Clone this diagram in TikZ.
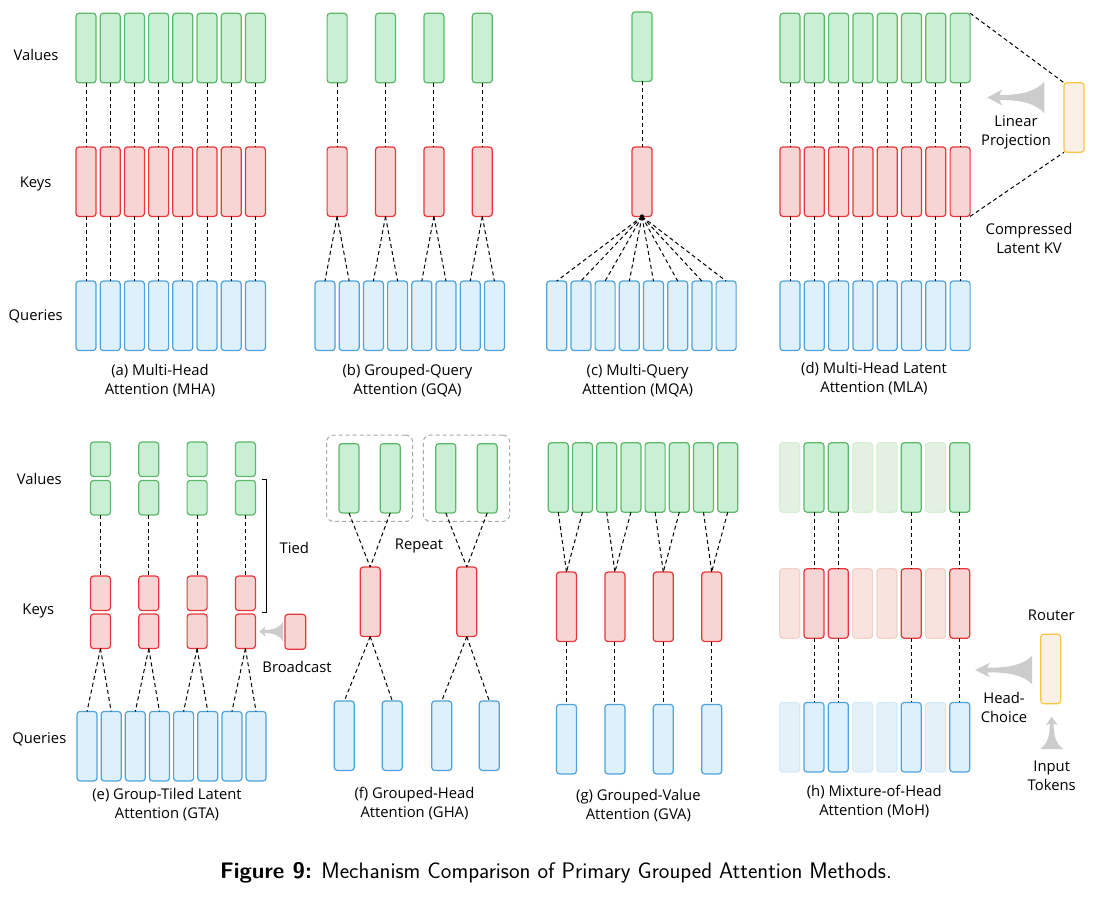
\documentclass[tikz,border=0pt]{standalone}
\usepackage{fontspec}
\setmainfont{Open Sans}
\usetikzlibrary{fit}
\definecolor{vstroke}{HTML}{5CB86A}
\definecolor{vfill}{HTML}{C9EFD4}
\definecolor{kstroke}{HTML}{E8363A}
\definecolor{kfill}{HTML}{F7D5D5}
\definecolor{qstroke}{HTML}{4FA3DA}
\definecolor{qfill}{HTML}{DEF0FB}
\definecolor{lstroke}{HTML}{F7C548}
\definecolor{lfill}{HTML}{FBF0E6}
\definecolor{fvstroke}{HTML}{D8EDD6}
\definecolor{fvfill}{HTML}{E4F1E2}
\definecolor{fkstroke}{HTML}{F0D2CA}
\definecolor{fkfill}{HTML}{F8E3DE}
\definecolor{fqstroke}{HTML}{D6EAF6}
\definecolor{fqfill}{HTML}{E5F1F8}
\definecolor{arrowgray}{HTML}{CCCCCC}
\definecolor{groupgray}{HTML}{AAAAAA}
\tikzset{
  box/.style={rounded corners=3pt, line width=1.2pt, minimum width=20pt, minimum height=69.5pt, inner sep=0pt, outer sep=0pt},
  small/.style={minimum height=34.5pt},
  vbox/.style={box, draw=vstroke, fill=vfill},
  kbox/.style={box, draw=kstroke, fill=kfill},
  qbox/.style={box, draw=qstroke, fill=qfill},
  lbox/.style={box, draw=lstroke, fill=lfill},
  fvbox/.style={box, draw=fvstroke, fill=fvfill},
  fkbox/.style={box, draw=fkstroke, fill=fkfill},
  fqbox/.style={box, draw=fqstroke, fill=fqfill},
  link/.style={line width=1pt, dash pattern=on 4pt off 3pt},
  lbl/.style={font=\fontsize{14.8}{19}\selectfont, align=center, inner sep=0pt},
  groupbox/.style={draw=groupgray, line width=1pt, dash pattern=on 4pt off 3pt, rounded corners=7pt, inner xsep=12.5pt, inner ysep=8.5pt},
  garrow/.pic={\fill[arrowgray] (0,0) -- (15,-8) -- (12,-2.5) .. controls (35,-2.5) and (48,-6) .. (57,-15.6) -- (57,15.6) .. controls (48,6) and (35,2.5) .. (12,2.5) -- (15,8) -- cycle;},
  garrowup/.pic={\fill[arrowgray] (0,0) -- (-8,15) -- (-2.5,12) .. controls (-2.5,35) and (-6,48) .. (-15.6,57) -- (15.6,57) .. controls (6,48) and (2.5,35) .. (2.5,12) -- (8,15) -- cycle;}
}
\begin{document}
\begin{tikzpicture}[x=1pt,y=-1pt]
\useasboundingbox[fill=white] (0,0) rectangle (1120,904);

% row labels
\node[lbl] (lv1) at (36,55) {Values};
\node[lbl] (lk1) at (35.7,184) {Keys};
\node[lbl] (lq1) at (35.7,316.7) {Queries};
\node[lbl] (lv2) at (39.3,479.3) {Values};
\node[lbl] (lk2) at (38.3,611) {Keys};
\node[lbl] (lq2) at (39.3,739) {Queries};

% (a) MHA
\foreach \i in {0,...,7}{
  \node[vbox] (aV\i) at ({86+24.2*\i},48) {};
  \node[kbox] (aK\i) at ({86+24.2*\i},181.7) {};
  \node[qbox] (aQ\i) at ({86+24.2*\i},315.8) {};
  \draw[link] (aV\i.south) -- (aK\i.north);
  \draw[link] (aK\i.south) -- (aQ\i.north);
}
\node[lbl] (capa) at (160,381) {(a) Multi-Head\\Attention (MHA)};

% (b) GQA
\foreach \k in {0,...,3}{
  \node[vbox] (bV\k) at ({337.1+48.4*\k},48) {};
  \node[kbox] (bK\k) at ({337.1+48.4*\k},181.7) {};
  \draw[link] (bV\k.south) -- (bK\k.north);
}
\foreach \i in {0,...,7}{
  \pgfmathtruncatemacro\g{floor(\i/2)}
  \node[qbox] (bQ\i) at ({325+24.2*\i},315.8) {};
  \draw[link] (bK\g.south) -- (bQ\i.north);
}
\node[lbl] (capb) at (407.5,381) {(b) Grouped-Query\\Attention (GQA)};

% (c) MQA
\node[vbox] (cV) at (642,46.7) {};
\node[kbox] (cK) at (642,181.8) {};
\draw[link] (cV.south) -- (cK.north);
\foreach \i in {0,...,7}{
  \node[qbox] (cQ\i) at ({556.7+24.2*\i},315.8) {};
  \draw[link] (cK.south) -- (cQ\i.north);
}
\fill (cK.south) circle (2.2);
\node[lbl] (capc) at (637.7,380.5) {(c) Multi-Query\\Attention (MQA)};

% (d) MLA
\foreach \i in {0,...,7}{
  \node[vbox] (dV\i) at ({790+24.3*\i},48) {};
  \node[kbox] (dK\i) at ({790+24.3*\i},181.7) {};
  \node[qbox] (dQ\i) at ({790+24.3*\i},315.8) {};
  \draw[link] (dV\i.south) -- (dK\i.north);
  \draw[link] (dK\i.south) -- (dQ\i.north);
}
\node[lbox] (dL) at (1074,117.5) {};
\draw[link] (dV7.north east) -- (dL.north west);
\draw[link] (dK7.south east) -- (dL.south west);
\pic at (987.3,97.5) {garrow};
\node[lbl] (lp) at (1016,132) {Linear\\Projection};
\node[lbl] (ckv) at (1029,238.7) {Compressed\\Latent KV};
\node[lbl] (capd) at (874,379) {(d) Multi-Head Latent\\Attention (MLA)};

% (e) GTA
\foreach \k in {0,...,3}{
  \node[vbox, small] (eVa\k) at ({100.5+48.3*\k},459.3) {};
  \node[vbox, small] (eVb\k) at ({100.5+48.3*\k},497.7) {};
  \node[kbox, small] (eKa\k) at ({100.5+48.3*\k},593.3) {};
  \node[kbox, small] (eKb\k) at ({100.5+48.3*\k},631.3) {};
  \draw[link] (eVb\k.south) -- (eKa\k.north);
}
\foreach \i in {0,...,7}{
  \pgfmathtruncatemacro\g{floor(\i/2)}
  \node[qbox] (eQ\i) at ({87+24.15*\i},746.2) {};
  \draw[link] (eKb\g.south) -- (eQ\i.north);
}
\coordinate (tt) at (261.7,479.3);
\coordinate (tb) at (261.7,612.3);
\draw[line width=1.2pt] (tt) -- ++(5,0) |- (tb);
\node[lbl] (tied) at (294.3,548.3) {Tied};
\node[kbox, small, minimum width=20.7pt, minimum height=35pt] (eB) at (295.3,631.8) {};
\pic[xscale=0.42, yscale=0.64] at (259.3,631.5) {garrow};
\node[lbl] (bc) at (297,667.3) {Broadcast};
\node[lbl] (cape) at (167,805) {(e) Group-Tiled Latent\\Attention (GTA)};

% (f) GHA
\node[vbox, minimum height=69.3pt] (fV0) at (349,478.3) {};
\node[vbox, minimum height=69.3pt] (fV1) at (390.2,478.3) {};
\node[vbox, minimum height=69.3pt] (fV2) at (445.8,478.3) {};
\node[vbox, minimum height=69.3pt] (fV3) at (487.2,478.3) {};
\node[groupbox, fit=(fV0)(fV1)] (fG0) {};
\node[groupbox, fit=(fV2)(fV3)] (fG1) {};
\node[kbox] (fK0) at (370.2,601.8) {};
\node[kbox] (fK1) at (466.8,601.8) {};
\draw[link] (fV0.south) -- (fK0.north);
\draw[link] (fV1.south) -- (fK0.north);
\draw[link] (fV2.south) -- (fK1.north);
\draw[link] (fV3.south) -- (fK1.north);
\node[qbox] (fQ0) at (344.3,735.7) {};
\node[qbox] (fQ1) at (392.3,735.7) {};
\node[qbox] (fQ2) at (441.8,735.7) {};
\node[qbox] (fQ3) at (489.3,735.7) {};
\draw[link] (fK0.south) -- (fQ0.north);
\draw[link] (fK0.south) -- (fQ1.north);
\draw[link] (fK1.south) -- (fQ2.north);
\draw[link] (fK1.south) -- (fQ3.north);
\node[lbl] (rep) at (419,545.7) {Repeat};
\node[lbl] (capf) at (414.5,803.3) {(f) Grouped-Head\\Attention (GHA)};

% (g) GVA
\foreach \i in {0,...,7}{
  \node[vbox] (gV\i) at ({558.3+24.2*\i},477.5) {};
}
\foreach \k in {0,...,3}{
  \node[kbox] (gK\k) at ({566.5+48.4*\k},606.8) {};
  \node[qbox] (gQ\k) at ({566.5+48.4*\k},739.2) {};
  \draw[link] (gK\k.south) -- (gQ\k.north);
}
\foreach \i in {0,...,7}{
  \pgfmathtruncatemacro\g{floor(\i/2)}
  \draw[link] (gV\i.south) -- (gK\g.north);
}
\node[lbl] (capg) at (638.4,806) {(g) Grouped-Value\\Attention (GVA)};

% (h) MoH
\foreach \i in {0,3,4,6}{
  \node[fvbox] (hV\i) at ({789.7+24.3*\i},477.5) {};
  \node[fkbox] (hK\i) at ({789.7+24.3*\i},603.5) {};
  \node[fqbox] (hQ\i) at ({789.7+24.3*\i},737.2) {};
}
\foreach \i in {1,2,5,7}{
  \node[vbox] (hV\i) at ({789.7+24.3*\i},477.5) {};
  \node[kbox] (hK\i) at ({789.7+24.3*\i},603.5) {};
  \node[qbox] (hQ\i) at ({789.7+24.3*\i},737.2) {};
  \draw[link] (hV\i.south) -- (hK\i.north);
  \draw[link] (hK\i.south) -- (hQ\i.north);
}
\node[lbox] (hR) at (1050.7,669) {};
\node[lbl] (rt) at (1051.3,615.7) {Router};
\pic[yscale=0.9] at (975,670) {garrow};
\pic[xscale=0.75, yscale=0.57] at (1051.7,716.7) {garrowup};
\node[lbl] (hc) at (1004,707) {Head-\\Choice};
\node[lbl] (it) at (1051.7,775.3) {Input\\Tokens};
\node[lbl] (caph) at (874.3,802) {(h) Mixture-of-Head\\Attention (MoH)};

% figure caption
\node[font=\sffamily\fontsize{22.5}{24}\selectfont, inner sep=0pt] (cap) at (556,873) {\textbf{Figure 9:} Mechanism Comparison of Primary Grouped Attention Methods.};
\end{tikzpicture}
\end{document}
